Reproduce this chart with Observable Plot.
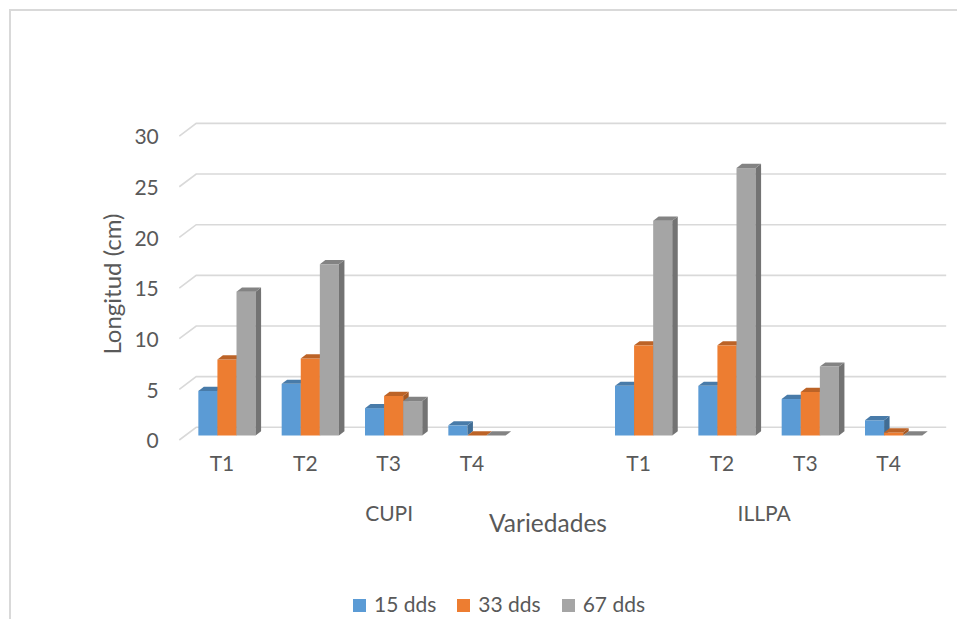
<!DOCTYPE html>
<html>
<head>
<meta charset="utf-8">
<script src="https://cdn.jsdelivr.net/npm/d3@7"></script>
<script src="https://cdn.jsdelivr.net/npm/@observablehq/plot@0.6"></script>
<style>
  html, body { margin: 0; padding: 0; width: 957px; height: 619px; overflow: hidden; background: #fff; }
  body { position: relative; font-family: Lato, "Open Sans", sans-serif; color: #595959; }
  #border { position: absolute; left: 9px; top: 9px; width: 1000px; height: 700px;
            border-top: 2px solid #d9d9d9; border-left: 2px solid #d9d9d9; box-sizing: border-box; }
  #chart { position: relative; }
  #chart svg { background: transparent; }
  .legend { display: flex; justify-content: center; align-items: center; height: 36px;
            width: 978px; margin-left: 10px; font-size: 21px; gap: 21px; }
  .legend .item { display: flex; align-items: center; gap: 8px; }
  .legend .sw { width: 13px; height: 13px; display: inline-block; margin-top: 4px; }
</style>
</head>
<body>
<div id="border"></div>
<div id="chart"></div>
<script>
// Longitud (cm) por variedad, tratamiento y fecha de evaluación
const varieties = ["CUPI", "ILLPA"];
const treatments = ["T1", "T2", "T3", "T4"];
const series = ["15 dds", "33 dds", "67 dds"];
const colors = ["#5B9BD5", "#ED7D31", "#A5A5A5"];

const cupi15 = [4.4, 5.1, 2.7, 1.0];
const cupi33 = [7.5, 7.6, 3.9, 0];
const cupi67 = [14.2, 16.9, 3.4, 0];
const illpa15 = [4.9, 4.9, 3.6, 1.5];
const illpa33 = [8.9, 8.9, 4.3, 0.3];
const illpa67 = [21.2, 26.4, 6.8, 0];

const yTicks = [0, 5, 10, 15, 20, 25, 30];

// Each variety takes treatments.length slots, plus one empty slot after CUPI
const slotsPerVariety = treatments.length + 1;
const values = {CUPI: [cupi15, cupi33, cupi67], ILLPA: [illpa15, illpa33, illpa67]};

const rows = [];
varieties.forEach((v, vi) => {
  treatments.forEach((t, ti) => {
    series.forEach((s, si) => {
      rows.push({variety: v, treatment: t, series: s, si, slot: vi * slotsPerVariety + ti, value: values[v][si][ti]});
    });
  });
});
const tickRows = rows.filter(d => d.si === 0);
const groupRows = varieties.map((v, vi) => {
  const first = vi * slotsPerVariety;
  const last = vi === varieties.length - 1 ? first + treatments.length - 1 : first + slotsPerVariety - 1;
  return {variety: v, center: (first + last) / 2};
});
const slotCount = varieties.length * slotsPerVariety - 1;

// 3D projection: offsets (px) from the bars' front face
const FRONT = [-6, 4.5];     // front edge of the floor
const BACK = [10.9, -8.2];   // back wall
const DEPTH = [5.5, -4.2];   // bar depth
const BAR = 0.229;           // bar width in slot units

function walls(index, scales, vals, dim) {
  const g = d3.create("svg:g").attr("fill", "none").attr("stroke", "#d9d9d9").attr("stroke-width", 1.6);
  const xl = dim.marginLeft, xr = dim.width - dim.marginRight;
  for (const i of index) {
    const y = vals.y[i];
    g.append("path").attr("d",
      `M${xl + FRONT[0]},${y + FRONT[1]}L${xl + BACK[0]},${y + BACK[1]}L${xr + BACK[0]},${y + BACK[1]}`);
  }
  return g.node();
}

function cuboids(index, scales, vals) {
  const g = d3.create("svg:g");
  for (const i of index) {
    const l = vals.x1[i], r = vals.x2[i];
    const top = Math.min(vals.y1[i], vals.y2[i]), bot = Math.max(vals.y1[i], vals.y2[i]);
    const c = vals.fill[i];
    const [dx, dy] = DEPTH;
    g.append("rect").attr("x", l).attr("y", top).attr("width", r - l).attr("height", bot - top).attr("fill", c);
    g.append("path").attr("d", `M${r},${bot}L${r + dx},${bot + dy}L${r + dx},${top + dy}L${r},${top}Z`)
      .attr("fill", d3.color(c).darker(1.0));
    g.append("path").attr("d", `M${l},${top}L${l + dx},${top + dy}L${r + dx},${top + dy}L${r},${top}Z`)
      .attr("fill", d3.color(c).darker(0.65));
  }
  return g.node();
}

const chart = Plot.plot({
  width: 957,
  height: 585,
  marginLeft: 185.3,
  marginRight: 21.7,
  marginTop: 131.6,
  marginBottom: 149.5,
  style: {background: "transparent", color: "#595959", fontFamily: "Lato, 'Open Sans', sans-serif"},
  x: {type: "linear", domain: [-0.5, slotCount - 0.5], axis: null},
  y: {domain: [0, 30], axis: null},
  color: {domain: series, range: colors},
  marks: [
    Plot.ruleY(yTicks, {y: d => d, render: walls}),
    Plot.axisY(yTicks, {tickSize: 0, tickPadding: 27, dy: 5.5, fontSize: 21, label: null}),
    Plot.text(["Longitud (cm)"], {text: d => d, frameAnchor: "left", textAnchor: "middle", rotate: -90, dx: -72.3, fontSize: 24}),
    Plot.rectY(rows, {
      x1: d => d.slot + (d.si - 1.5) * BAR,
      x2: d => d.slot + (d.si - 0.5) * BAR,
      y1: 0,
      y2: "value",
      fill: "series",
      render: cuboids
    }),
    Plot.text(tickRows, {x: "slot", text: "treatment", frameAnchor: "bottom", dx: -5.5, dy: 35, fontSize: 21}),
    Plot.text(groupRows, {x: "center", text: "variety", frameAnchor: "bottom", dx: -5, dy: 84.5, fontSize: 21}),
    Plot.text(["Variedades"], {text: d => d, frameAnchor: "bottom", dx: -12.8, dy: 95.5, fontSize: 24.5})
  ]
});
document.getElementById("chart").append(chart);

const legend = d3.select("#chart").append("div").attr("class", "legend");
series.forEach((s, i) => {
  const item = legend.append("span").attr("class", "item");
  item.append("span").attr("class", "sw").style("background", colors[i]);
  item.append("span").text(s);
});
</script>
</body>
</html>
